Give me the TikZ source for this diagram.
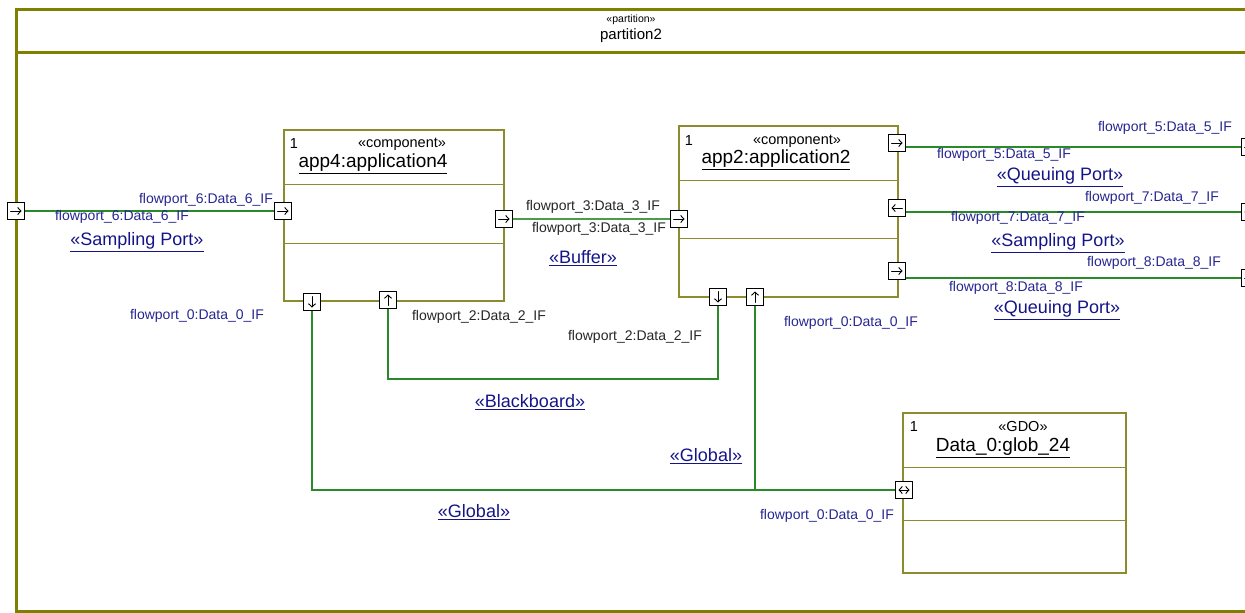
\documentclass[tikz,border=0pt]{standalone}
\usepackage{fontspec}
\setmainfont{Liberation Sans}
\usetikzlibrary{positioning, calc, arrows.meta}

\definecolor{framecol}{HTML}{808000}
\definecolor{boxcol}{HTML}{8C8C2E}
\definecolor{flowcol}{HTML}{2A8A2A}
\definecolor{portlbl}{HTML}{262690}
\definecolor{kindcol}{HTML}{141488}

\begin{document}
\begin{tikzpicture}[x=1pt, y=-1pt,
  compbox/.style={draw=boxcol, line width=1.3pt, fill=white, inner sep=0pt},
  divider/.style={draw=boxcol, line width=1.3pt},
  port/.style={draw=black, fill=white, line width=1.1pt, minimum size=16.5pt, inner sep=0pt},
  parrow/.style={line width=0.9pt, line cap=round, {Straight Barb[length=3.2pt, width=7pt]}-{Straight Barb[length=3.2pt, width=7pt]}, shorten <=0pt},
  portr/.style={port, path picture={\draw[parrow, arrows=-{Straight Barb[length=3.2pt, width=7pt]}]
    ([xshift=-5.5pt]path picture bounding box.center) -- ([xshift=5.5pt]path picture bounding box.center);}},
  portl/.style={port, path picture={\draw[parrow, arrows=-{Straight Barb[length=3.2pt, width=7pt]}]
    ([xshift=5.5pt]path picture bounding box.center) -- ([xshift=-5.5pt]path picture bounding box.center);}},
  portu/.style={port, path picture={\draw[parrow, arrows=-{Straight Barb[length=3.2pt, width=7pt]}]
    ([yshift=-5.5pt]path picture bounding box.center) -- ([yshift=5.5pt]path picture bounding box.center);}},
  portd/.style={port, path picture={\draw[parrow, arrows=-{Straight Barb[length=3.2pt, width=7pt]}]
    ([yshift=5.5pt]path picture bounding box.center) -- ([yshift=-5.5pt]path picture bounding box.center);}},
  portlr/.style={port, path picture={\draw[parrow]
    ([xshift=-5.5pt]path picture bounding box.center) -- ([xshift=5.5pt]path picture bounding box.center);}},
  flow/.style={draw=flowcol, line width=1.3pt},
  portname/.style={text=portlbl, inner sep=0pt, font=\fontsize{14}{16}\selectfont},
  bufname/.style={text=black!85, inner sep=0pt, font=\fontsize{14}{16}\selectfont},
  kind/.style={text=kindcol, inner sep=0pt, font=\fontsize{18}{20}\selectfont},
  stype/.style={inner sep=0pt, font=\fontsize{14.5}{16}\selectfont},
  title/.style={inner sep=0pt, font=\fontsize{19}{22}\selectfont},
]
\clip (0,0) rectangle (1245,613);

% Draw the partition frame
\draw[framecol, line width=3pt] (16,9) rectangle (1275,611);
\draw[framecol, line width=3pt] (16,52) -- (1275,52);
\node[inner sep=0pt, font=\fontsize{10.5}{12}\selectfont] (partst) at (631,20) {«partition»};
\node[inner sep=0pt, font=\fontsize{15}{17}\selectfont] (partname) at (631,36) {partition2};

% Component app4
\node[compbox, minimum width=220pt, minimum height=171pt] (app4) at (394,215.5) {};
\draw[divider] ($(app4.north west)+(0,55)$) -- ($(app4.north east)+(0,55)$);
\draw[divider] ($(app4.north west)+(0,114)$) -- ($(app4.north east)+(0,114)$);
\node[stype] (app4m) at (294,144) {1};
\node[stype] (app4s) at (402,144) {«component»};
\node[title] (app4t) at (373,164) {\underline{app4:application4}};

% Component app2
\node[compbox, minimum width=219pt, minimum height=171pt] (app2) at (788.5,211.5) {};
\draw[divider] ($(app2.north west)+(0,55)$) -- ($(app2.north east)+(0,55)$);
\draw[divider] ($(app2.north west)+(0,113)$) -- ($(app2.north east)+(0,113)$);
\node[stype] (app2m) at (689,141) {1};
\node[stype] (app2s) at (797,141) {«component»};
\node[title] (app2t) at (776,160) {\underline{app2:application2}};

% Global data object
\node[compbox, minimum width=223pt, minimum height=160pt] (gdo) at (1014.5,493) {};
\draw[divider] ($(gdo.north west)+(0,55)$) -- ($(gdo.north east)+(0,55)$);
\draw[divider] ($(gdo.north west)+(0,108)$) -- ($(gdo.north east)+(0,108)$);
\node[stype] (gdom) at (914,427) {1};
\node[stype] (gdos) at (1023,427) {«GDO»};
\node[title] (gdot) at (1003,448) {\underline{Data\_0:glob\_24}};

% Ports
\node[portr] (p6a) at (16,211) {};
\node[portr] (p6b) at (283,211) {};
\node[portr] (p3a) at (504,219) {};
\node[portr] (p3b) at (679,219) {};
\node[portd] (p0a) at (312,302) {};
\node[portu] (p2a) at (388,300) {};
\node[portd] (p2b) at (718,297) {};
\node[portu] (p0b) at (755,297) {};
\node[portr] (p5) at (897,143) {};
\node[portl] (p7) at (897,208) {};
\node[portr] (p8) at (897,271) {};
\node[portr] (e5) at (1250,147) {};
\node[portl] (e7) at (1250,212) {};
\node[portr] (e8) at (1250,278) {};
\node[portlr] (pg) at (904,490) {};

% Draw the flows
\draw[flow] (p6a) -- (p6b);
\draw[flow, line width=1.7pt, draw=flowcol!85] (p3a) -- (p3b);
\draw[flow] (p5.east |- e5) -- (e5.west);
\draw[flow] (p7.east |- e7) -- (e7.west);
\draw[flow] (p8.east |- e8) -- (e8.west);
\coordinate (bb) at (718,379);
\draw[flow] (p2a.south) |- (bb) -- (p2b.south);
\draw[flow] (p0a.south) |- (pg.west);
\draw[flow] (p0b.south) |- (pg.west);

% Port names
\foreach \n/\x/\y/\t in {l6a/206/200/flowport\_6:Data\_6\_IF, l6b/122/217/flowport\_6:Data\_6\_IF,
  l0a/197/316/flowport\_0:Data\_0\_IF, l0b/851/323/flowport\_0:Data\_0\_IF,
  l0c/827/516/flowport\_0:Data\_0\_IF,
  l5a/1165/128/flowport\_5:Data\_5\_IF, l5b/1004/155/flowport\_5:Data\_5\_IF,
  l7a/1152/198/flowport\_7:Data\_7\_IF, l7b/1018/218/flowport\_7:Data\_7\_IF,
  l8a/1154/263/flowport\_8:Data\_8\_IF, l8b/1016/288/flowport\_8:Data\_8\_IF}
  \node[portname] (\n) at (\x,\y) {\t};
\foreach \n/\x/\y/\t in {l3a/593/207/flowport\_3:Data\_3\_IF, l3b/599/229/flowport\_3:Data\_3\_IF,
  l2a/479/317/flowport\_2:Data\_2\_IF, l2b/635/337/flowport\_2:Data\_2\_IF}
  \node[bufname] (\n) at (\x,\y) {\t};

% Flow kinds
\foreach \n/\x/\y/\t in {k6/137/242/Sampling Port, k3/583/258/Buffer,
  k2/530/402/Blackboard, k0a/706/456/Global, k0b/474/512/Global,
  k5/1060/177/Queuing Port, k7/1058/243/Sampling Port, k8/1057/310/Queuing Port}
  \node[kind] (\n) at (\x,\y) {\underline{«\t»}};

\end{tikzpicture}
\end{document}
